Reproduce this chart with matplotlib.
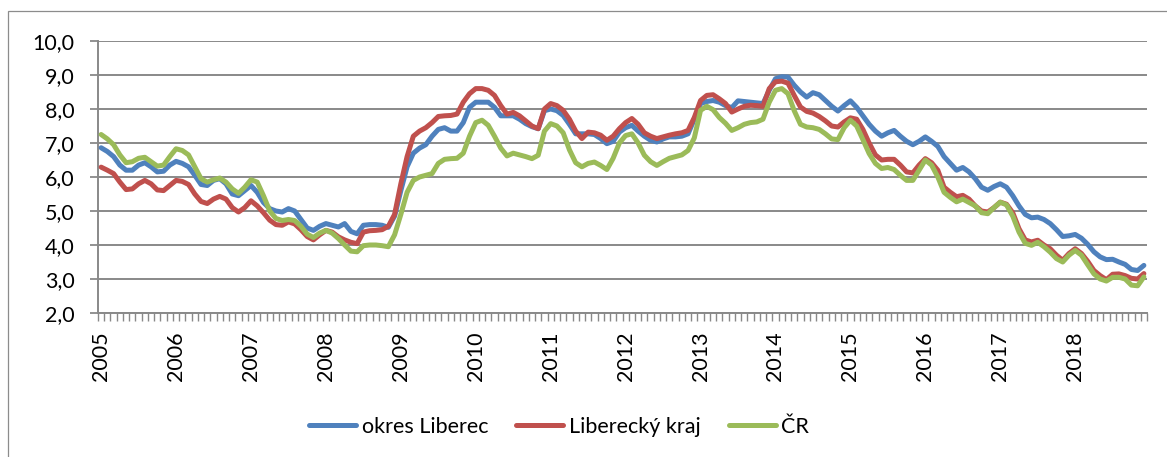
import numpy as np
import matplotlib
matplotlib.use("Agg")
import matplotlib.pyplot as plt
from matplotlib.patches import Rectangle

plt.rcParams['font.family'] = ['Lato', 'DejaVu Sans']

# Monthly values 2005-2018
years = list(range(2005, 2019))

okres_liberec = [
    6.86, 6.75, 6.6, 6.35, 6.2, 6.2, 6.35, 6.42, 6.3, 6.15, 6.17, 6.35,
    6.46, 6.4, 6.3, 6.05, 5.78, 5.75, 5.9, 5.95, 5.8, 5.5, 5.45, 5.6,
    5.75, 5.55, 5.25, 5.07, 5.0, 4.97, 5.07, 5.0, 4.75, 4.5, 4.43, 4.55,
    4.63, 4.58, 4.53, 4.63, 4.4, 4.33, 4.58, 4.6, 4.6, 4.58, 4.52, 4.85,
    5.6, 6.3, 6.7, 6.85, 6.95, 7.2, 7.4, 7.45, 7.35, 7.35, 7.6, 8.05,
    8.2, 8.2, 8.2, 8.05, 7.8, 7.8, 7.8, 7.7, 7.57, 7.48, 7.42, 7.95,
    8.0, 7.95, 7.81, 7.55, 7.27, 7.27, 7.27, 7.25, 7.13, 6.98, 7.05, 7.32,
    7.45, 7.52, 7.35, 7.2, 7.08, 7.03, 7.12, 7.18, 7.18, 7.2, 7.27, 7.7,
    8.16, 8.22, 8.25, 8.2, 8.1, 8.04, 8.24, 8.22, 8.2, 8.18, 8.16, 8.55,
    8.89, 8.95, 8.94, 8.7, 8.5, 8.35, 8.48, 8.42, 8.25, 8.08, 7.94, 8.1,
    8.24, 8.05, 7.8, 7.55, 7.35, 7.2, 7.3, 7.37, 7.2, 7.05, 6.95, 7.05,
    7.18, 7.05, 6.9, 6.6, 6.4, 6.2, 6.28, 6.15, 5.95, 5.7, 5.61, 5.72,
    5.8, 5.7, 5.45, 5.15, 4.9, 4.8, 4.82, 4.75, 4.63, 4.45, 4.25, 4.27,
    4.31, 4.2, 4.02, 3.8, 3.65, 3.57, 3.58, 3.5, 3.43, 3.28, 3.25, 3.4,
]

liberecky_kraj = [
    6.29, 6.2, 6.1, 5.85, 5.63, 5.65, 5.8, 5.9, 5.8, 5.62, 5.6, 5.75,
    5.9, 5.87, 5.78, 5.5, 5.28, 5.22, 5.35, 5.43, 5.35, 5.1, 4.97, 5.1,
    5.3, 5.15, 4.95, 4.73, 4.6, 4.58, 4.68, 4.62, 4.45, 4.25, 4.15, 4.3,
    4.43, 4.38, 4.24, 4.15, 4.08, 4.04, 4.38, 4.42, 4.43, 4.45, 4.55, 4.9,
    5.8, 6.6, 7.2, 7.35, 7.45, 7.6, 7.78, 7.8, 7.81, 7.85, 8.2, 8.45,
    8.6, 8.6, 8.55, 8.4, 8.1, 7.85, 7.9, 7.8, 7.65, 7.5, 7.42, 8.0,
    8.16, 8.1, 7.96, 7.7, 7.35, 7.13, 7.32, 7.3, 7.23, 7.08, 7.2, 7.42,
    7.6, 7.72, 7.55, 7.3, 7.2, 7.13, 7.18, 7.23, 7.27, 7.3, 7.37, 7.75,
    8.25, 8.4, 8.42, 8.3, 8.16, 7.91, 8.0, 8.08, 8.11, 8.1, 8.08, 8.6,
    8.8, 8.82, 8.76, 8.4, 8.06, 7.93, 7.88, 7.78, 7.65, 7.5, 7.47, 7.62,
    7.74, 7.7, 7.4, 7.0, 6.65, 6.5, 6.52, 6.52, 6.35, 6.15, 6.12, 6.35,
    6.54, 6.42, 6.2, 5.7, 5.55, 5.42, 5.46, 5.35, 5.15, 5.0, 4.97, 5.1,
    5.26, 5.2, 4.95, 4.48, 4.15, 4.09, 4.14, 4.0, 3.89, 3.7, 3.55, 3.75,
    3.89, 3.75, 3.52, 3.25, 3.1, 2.98, 3.14, 3.15, 3.1, 3.02, 3.0, 3.16,
]

cr = [
    7.25, 7.12, 6.95, 6.65, 6.42, 6.45, 6.55, 6.58, 6.45, 6.32, 6.35, 6.6,
    6.83, 6.78, 6.65, 6.3, 5.95, 5.85, 5.92, 5.97, 5.85, 5.65, 5.52, 5.7,
    5.92, 5.85, 5.45, 5.0, 4.78, 4.72, 4.75, 4.72, 4.55, 4.32, 4.22, 4.35,
    4.43, 4.35, 4.19, 4.0, 3.82, 3.8, 3.98, 4.0, 4.0, 3.98, 3.95, 4.3,
    4.9, 5.55, 5.9, 6.0, 6.05, 6.1, 6.4, 6.52, 6.54, 6.55, 6.7, 7.2,
    7.6, 7.67, 7.52, 7.2, 6.85, 6.62, 6.7, 6.65, 6.6, 6.54, 6.64, 7.35,
    7.57, 7.5, 7.3, 6.8, 6.42, 6.3, 6.4, 6.44, 6.34, 6.22, 6.55, 7.0,
    7.22, 7.27, 7.0, 6.64, 6.45, 6.34, 6.45, 6.55, 6.6, 6.65, 6.78, 7.15,
    7.96, 8.08, 7.98, 7.75, 7.58, 7.37, 7.45, 7.55, 7.6, 7.62, 7.7, 8.2,
    8.55, 8.6, 8.45, 7.95, 7.55, 7.47, 7.45, 7.4, 7.27, 7.12, 7.1, 7.45,
    7.67, 7.5, 7.1, 6.69, 6.4, 6.25, 6.28, 6.22, 6.05, 5.9, 5.9, 6.2,
    6.5, 6.35, 6.0, 5.55, 5.4, 5.27, 5.35, 5.25, 5.15, 4.95, 4.92, 5.1,
    5.26, 5.18, 4.85, 4.38, 4.05, 3.99, 4.08, 3.95, 3.79, 3.6, 3.5, 3.7,
    3.84, 3.7, 3.42, 3.15, 3.0, 2.94, 3.05, 3.05, 3.0, 2.82, 2.8, 3.06,
]

series_names = ["okres Liberec", "Liberecký kraj", "ČR"]
colors = ["#4F81BD", "#C0504D", "#9BBB59"]
grid_color = "#898989"


def main():
    fig = plt.figure(figsize=(11.67, 4.57), dpi=100)
    ax = fig.add_axes([98 / 1167, 1 - 313 / 457, (1147 - 98) / 1167, (313 - 41) / 457])

    # outer chart border
    fig.patches.append(Rectangle((8 / 1167, -0.01), 1.0, 1 - 11 / 457 + 0.01,
                                 transform=fig.transFigure, fill=False,
                                 edgecolor="#8c8c8c", linewidth=0.9))

    months = np.arange(len(okres_liberec))
    for vals, name, col in zip([okres_liberec, liberecky_kraj, cr], series_names, colors):
        ax.plot(months, vals, color=col, linewidth=3.6, label=name,
                solid_joinstyle="round", solid_capstyle="round", zorder=3)

    # y axis
    ax.set_ylim(2, 10)
    yt = np.arange(2, 11, 1)
    ax.set_yticks(yt)
    ax.set_yticklabels([f"{v:.1f}".replace(".", ",") for v in yt], fontsize=15.5)
    ax.tick_params(axis="y", length=6, width=1.3, color=grid_color, pad=11)
    ax.yaxis.grid(True, color=grid_color, linewidth=1.4)
    ax.set_axisbelow(True)

    # x axis - category per month, year labels on January
    ax.set_xlim(-0.5, len(months) - 0.5)
    ax.set_xticks([12 * k for k in range(len(years))])
    ax.set_xticklabels([str(y) for y in years], rotation=90, fontsize=15.5,
                       va="top", ha="center")
    ax.tick_params(axis="x", which="major", length=0, pad=13)
    ax.set_xticks(np.arange(-0.5, len(months), 1), minor=True)
    ax.tick_params(axis="x", which="minor", length=6, width=1.0, color=grid_color)

    for s in ["top", "right"]:
        ax.spines[s].set_visible(False)
    for s in ["left", "bottom"]:
        ax.spines[s].set_color(grid_color)
        ax.spines[s].set_linewidth(1.4)

    fig.legend(loc="center", bbox_to_anchor=(0.479, 1 - 427 / 457), ncol=3,
               frameon=False, fontsize=15.5, handlelength=2.2,
               handletextpad=0.25, columnspacing=1.3)

    fig.savefig("out.png", dpi=100)


if __name__ == "__main__":
    main()
